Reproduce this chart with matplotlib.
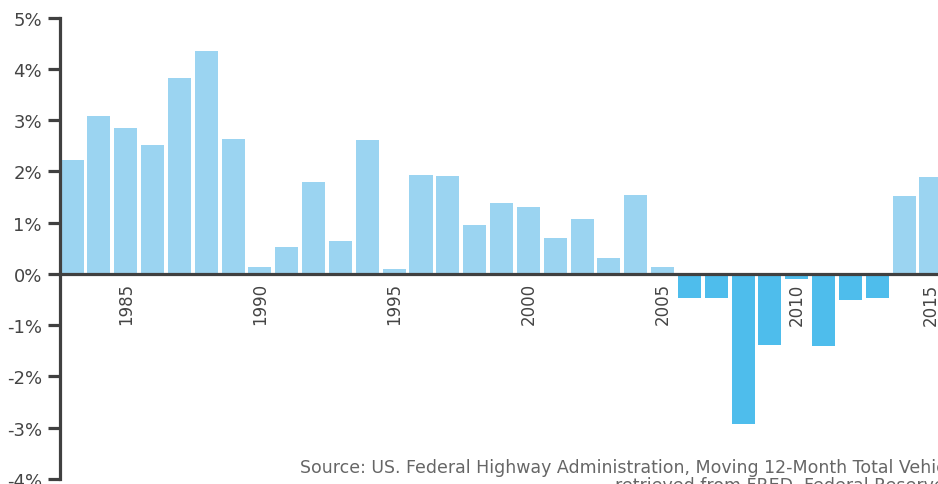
import matplotlib.pyplot as plt
import numpy as np
from matplotlib.ticker import FuncFormatter

years = list(range(1983, 2016))
growth = [2.22, 3.08, 2.85, 2.52, 3.83, 4.35, 2.63, 0.14, 0.53, 1.79,
          0.65, 2.61, 0.10, 1.94, 1.91, 0.96, 1.38, 1.30, 0.71, 1.08,
          0.31, 1.55, 0.14, -0.46, -0.46, -2.93, -1.38, -0.10, -1.40, -0.50,
          -0.46, 1.53, 1.90]
year_ticks = [1985, 1990, 1995, 2000, 2005, 2010, 2015]
source_line1 = 'Source: US. Federal Highway Administration, Moving 12-Month Total Vehicle Miles Traveled [M12MTVUSM227NFWA],'
source_line2 = 'retrieved from FRED, Federal Reserve Bank of St. Louis'

pos_color = '#9BD4F1'
neg_color = '#4EBDEC'
axis_color = '#404040'
text_color = '#444444'

plt.rcParams['font.family'] = ['DejaVu Sans']

fig = plt.figure(figsize=(9.38, 4.85), dpi=100)
ax = fig.add_axes([60 / 938, 5 / 485, 1 - 60 / 938, (480 - 18.7) / 485])

x = np.array(years)
vals = np.array(growth)
colors = [pos_color if v >= 0 else neg_color for v in vals]
ax.bar(x, vals, width=0.86, color=colors, zorder=2)

ax.set_xlim(1982.553, 2015.26)
ax.set_ylim(-4, 5)
ax.set_yticks(range(-4, 6))
ax.yaxis.set_major_formatter(FuncFormatter(lambda v, p: '%d%%' % v))

# x axis sits on the zero line
ax.spines['bottom'].set_position(('data', 0))
ax.spines['bottom'].set_linewidth(2.3)
ax.spines['bottom'].set_color(axis_color)
ax.spines['bottom'].set_zorder(3)
ax.set_xticks(year_ticks)
ax.set_xticklabels([str(y) for y in year_ticks], rotation=90, va='top', ha='center')
ax.tick_params(axis='x', length=0, pad=6, labelsize=12, labelcolor=text_color)
ax.tick_params(axis='y', length=9, width=2.3, color=axis_color, pad=4,
               labelsize=13, labelcolor=text_color)

for side in ['top', 'right']:
    ax.spines[side].set_visible(False)
ax.spines['left'].set_linewidth(2.3)
ax.spines['left'].set_color(axis_color)

fig.text(300 / 938, 1 - 473 / 485, source_line1, fontsize=12.5, color='#666666',
         ha='left', va='baseline')
fig.text(615 / 938, 1 - 491 / 485, source_line2, fontsize=12.5, color='#666666',
         ha='left', va='baseline')

fig.savefig('out.png', dpi=100)
